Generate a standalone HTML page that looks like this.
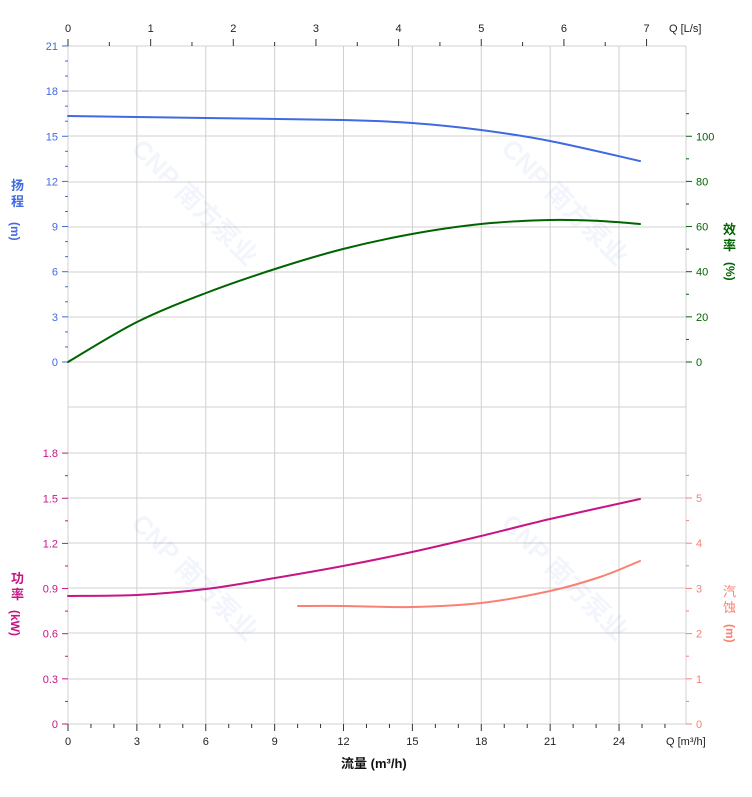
<!DOCTYPE html>
<html><head><meta charset="utf-8"><style>
html,body{margin:0;padding:0;background:#fff;}
svg{display:block;font-family:"Liberation Sans","Noto Sans CJK SC",sans-serif;}
</style></head><body>
<svg id="c" width="752" height="797" viewBox="0 0 752 797" xmlns="http://www.w3.org/2000/svg">
<g id="grid" stroke="#d0d0d0" stroke-width="1" fill="none"></g>
<g opacity="0.07" fill="#3a7bd5" font-size="26" font-weight="bold">
<text transform="translate(130,150) rotate(45)">CNP 南方泵业</text>
<text transform="translate(500,150) rotate(45)">CNP 南方泵业</text>
<text transform="translate(130,525) rotate(45)">CNP 南方泵业</text>
<text transform="translate(500,525) rotate(45)">CNP 南方泵业</text>
</g>
<g id="ticks"></g>
<g id="curves" fill="none" stroke-width="2" stroke-linecap="round"></g>
<g font-size="11">
<text x="669" y="32" fill="#222">Q [L/s]</text>
<text x="666" y="745" fill="#222">Q [m³/h]</text>
</g>
<text x="341" y="768" font-size="13" font-weight="bold" fill="#111">流量 (m³/h)</text>
<g font-size="13" font-weight="bold">
<text x="11" y="190" fill="#4169e1">扬</text><text x="11" y="206" fill="#4169e1">程</text>
<text transform="translate(11,222) rotate(90)" fill="#4169e1" font-size="12">(m)</text>
<text x="723" y="234" fill="#006400">效</text><text x="723" y="250" fill="#006400">率</text>
<text transform="translate(726,262) rotate(90)" fill="#006400" font-size="12">(%)</text>
<text x="11" y="583" fill="#c71585">功</text><text x="11" y="599" fill="#c71585">率</text>
<text transform="translate(11,610) rotate(90)" fill="#c71585" font-size="12">(kW)</text>
<text x="723" y="596" fill="#fa8072" font-weight="normal">汽</text><text x="723" y="612" fill="#fa8072" font-weight="normal">蚀</text>
<text transform="translate(726,624) rotate(90)" fill="#fa8072" font-size="12">(m)</text>
</g>
</svg>
<script>
var NS="http://www.w3.org/2000/svg";
function el(p,t,a,txt){var e=document.createElementNS(NS,t);for(var k in a)e.setAttribute(k,a[k]);if(txt!==undefined)e.textContent=txt;document.getElementById(p).appendChild(e);return e;}
function cr(pts){var d="M"+pts[0][0]+","+pts[0][1];for(var i=0;i<pts.length-1;i++){var p0=pts[i-1]||pts[i],p1=pts[i],p2=pts[i+1],p3=pts[i+2]||p2;
 d+=" C"+(p1[0]+(p2[0]-p0[0])/6)+","+(p1[1]+(p2[1]-p0[1])/6)+" "+(p2[0]-(p3[0]-p1[0])/6)+","+(p2[1]-(p3[1]-p1[1])/6)+" "+p2[0]+","+p2[1];}return d;}
var hs=[46,91,136,182,227,272,317,362,407,453,498,543,588,633,679];
hs.forEach(function(y){el('grid','line',{x1:68,x2:686,y1:y,y2:y});});
for(var i=1;i<=8;i++){var x=68+i*22.96*3;el('grid','line',{x1:x,x2:x,y1:46,y2:724});}
el('grid','line',{x1:686,x2:686,y1:46,y2:724});
el('grid','line',{x1:68,x2:68,y1:46,y2:724});
el('grid','line',{x1:68,x2:686,y1:724,y2:724});
el('grid','line',{x1:68,x2:686,y1:46,y2:46});
for(var i=0;i<=14;i++){var x=68+i*0.5*82.65;el('ticks','line',{x1:x,x2:x,y1:46,y2:i%2?42:39,stroke:'#333','stroke-width':1});
 if(i%2==0)el('ticks','text',{x:x,y:32,'font-size':11,'text-anchor':'middle',fill:'#222'},i/2);}
for(var i=0;i<=26;i++){var x=68+i*22.96;el('ticks','line',{x1:x,x2:x,y1:724,y2:i%3?728:731,stroke:'#333','stroke-width':1});
 if(i%3==0&&i<=24)el('ticks','text',{x:x,y:745,'font-size':11,'text-anchor':'middle',fill:'#222'},i);}
for(var v=0;v<=21;v++){var y=362-v*15.05;el('ticks','line',{x1:v%3?65:62,x2:68,y1:y,y2:y,stroke:'#4169e1'});
 if(v%3==0)el('ticks','text',{x:58,y:y+4,'font-size':11,'text-anchor':'end',fill:'#4169e1'},v);}
for(var i=0;i<=12;i++){var y=724-i*0.15*150.5;el('ticks','line',{x1:i%2?65:62,x2:68,y1:y,y2:y,stroke:'#c71585'});
 if(i%2==0)el('ticks','text',{x:58,y:y+4,'font-size':11,'text-anchor':'end',fill:'#c71585'},(i*0.15).toFixed(1).replace(/\.0$/,''));}
for(var i=0;i<=11;i++){var y=362-i*10*2.2575;el('ticks','line',{x1:686,x2:i%2?689:692,y1:y,y2:y,stroke:'#006400'});
 if(i%2==0)el('ticks','text',{x:696,y:y+4,'font-size':11,fill:'#006400'},i*10);}
for(var i=0;i<=11;i++){var y=724-i*0.5*45.2;el('ticks','line',{x1:686,x2:i%2?689:692,y1:y,y2:y,stroke:'#fa8072'});
 if(i%2==0)el('ticks','text',{x:696,y:y+4,'font-size':11,fill:'#fa8072'},i/2);}
el('curves','path',{stroke:'#4169e1',d:cr([[68,116],[206,118],[343,120],[412,123],[481,130],[550,141],[640,161]])});
el('curves','path',{stroke:'#006400',d:cr([[68,362],[137,322],[206,293],[275,269],[343,249],[412,234],[481,224],[550,220],[600,221],[640,224]])});
el('curves','path',{stroke:'#c71585',d:cr([[68,596],[137,595],[206,589],[275,578],[343,566],[412,552],[481,536],[550,519],[640,499]])});
el('curves','path',{stroke:'#fa8072',d:cr([[298,606],[343,606],[412,607],[481,603],[550,591],[600,577],[640,561]])});
</script>
</body></html>
